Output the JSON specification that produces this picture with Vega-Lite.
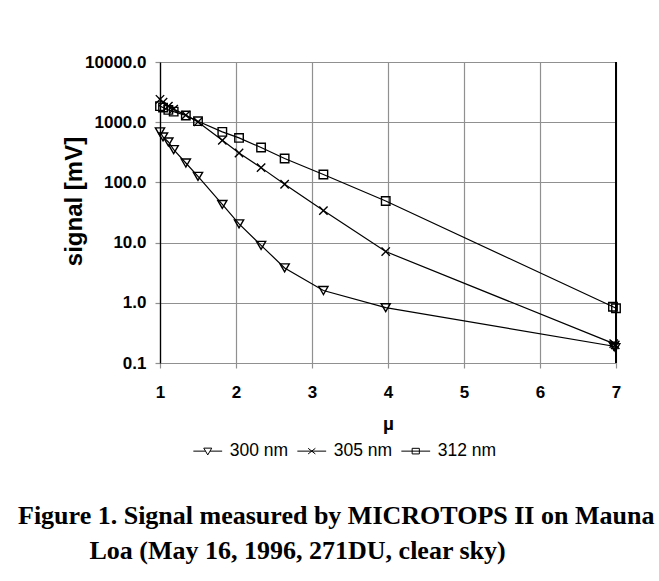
{
  "$schema": "https://vega.github.io/schema/vega-lite/v6.json",
  "width": 456,
  "height": 301,
  "autosize": {"type": "none"},
  "padding": {"left": 160, "top": 62, "right": 43, "bottom": 218},
  "background": "white",
  "title": {
    "text": ["Figure 1. Signal measured by MICROTOPS II on Mauna", "\u200b\u00a0\u00a0\u00a0\u00a0\u00a0\u00a0\u00a0\u00a0\u00a0\u00a0\u00a0Loa (May 16, 1996, 271DU, clear sky)"],
    "orient": "bottom",
    "anchor": "start",
    "frame": "group",
    "dx": -142,
    "offset": 43,
    "font": "Liberation Serif",
    "fontSize": 26,
    "fontWeight": "bold",
    "lineHeight": 35,
    "color": "black"
  },
  "data": {
    "values": [
      {"series": "300 nm", "mu": 1.00, "signal": 690},
      {"series": "300 nm", "mu": 1.04, "signal": 569},
      {"series": "300 nm", "mu": 1.11, "signal": 470},
      {"series": "300 nm", "mu": 1.18, "signal": 351},
      {"series": "300 nm", "mu": 1.34, "signal": 210},
      {"series": "300 nm", "mu": 1.50, "signal": 126},
      {"series": "300 nm", "mu": 1.82, "signal": 43},
      {"series": "300 nm", "mu": 2.04, "signal": 20.5},
      {"series": "300 nm", "mu": 2.33, "signal": 9.0},
      {"series": "300 nm", "mu": 2.64, "signal": 3.8},
      {"series": "300 nm", "mu": 3.15, "signal": 1.6},
      {"series": "300 nm", "mu": 3.97, "signal": 0.83},
      {"series": "300 nm", "mu": 6.97, "signal": 0.19},
      {"series": "300 nm", "mu": 6.99, "signal": 0.18},
      {"series": "305 nm", "mu": 1.00, "signal": 2400},
      {"series": "305 nm", "mu": 1.04, "signal": 2150},
      {"series": "305 nm", "mu": 1.11, "signal": 1850},
      {"series": "305 nm", "mu": 1.18, "signal": 1650},
      {"series": "305 nm", "mu": 1.34, "signal": 1310},
      {"series": "305 nm", "mu": 1.50, "signal": 1010},
      {"series": "305 nm", "mu": 1.82, "signal": 500},
      {"series": "305 nm", "mu": 2.04, "signal": 308},
      {"series": "305 nm", "mu": 2.33, "signal": 176},
      {"series": "305 nm", "mu": 2.64, "signal": 93},
      {"series": "305 nm", "mu": 3.15, "signal": 34},
      {"series": "305 nm", "mu": 3.97, "signal": 7.1},
      {"series": "305 nm", "mu": 6.97, "signal": 0.21},
      {"series": "305 nm", "mu": 6.99, "signal": 0.2},
      {"series": "312 nm", "mu": 1.00, "signal": 1850},
      {"series": "312 nm", "mu": 1.04, "signal": 1750},
      {"series": "312 nm", "mu": 1.11, "signal": 1600},
      {"series": "312 nm", "mu": 1.18, "signal": 1500},
      {"series": "312 nm", "mu": 1.34, "signal": 1290},
      {"series": "312 nm", "mu": 1.50, "signal": 1040},
      {"series": "312 nm", "mu": 1.82, "signal": 690},
      {"series": "312 nm", "mu": 2.04, "signal": 548},
      {"series": "312 nm", "mu": 2.33, "signal": 379},
      {"series": "312 nm", "mu": 2.64, "signal": 249},
      {"series": "312 nm", "mu": 3.15, "signal": 135},
      {"series": "312 nm", "mu": 3.97, "signal": 49},
      {"series": "312 nm", "mu": 6.96, "signal": 0.86},
      {"series": "312 nm", "mu": 7.0, "signal": 0.81}
    ]
  },
  "config": {
    "view": {"stroke": null},
    "font": "Liberation Sans",
    "axis": {
      "labelFont": "Liberation Sans",
      "labelFontWeight": "bold",
      "labelFontSize": 17,
      "labelColor": "black",
      "titleFont": "Liberation Sans",
      "titleFontWeight": "bold",
      "titleColor": "black",
      "gridColor": "#909090",
      "gridWidth": 1.2,
      "gridOpacity": 1,
      "tickColor": "#909090",
      "tickWidth": 1.2
    }
  },
  "layer": [
    {
      "mark": {"type": "rule", "color": "black", "strokeWidth": 1},
      "encoding": {
        "x": {"datum": 7, "type": "quantitative"}
      }
    },
    {
      "mark": {"type": "line", "color": "black", "strokeWidth": 1.2},
      "encoding": {
        "x": {
          "field": "mu", "type": "quantitative",
          "scale": {"domain": [1, 7], "nice": false, "zero": false},
          "axis": {
            "title": "µ",
            "titleFontSize": 19,
            "titleY": 51,
            "values": [1, 1.5, 2, 2.5, 3, 3.5, 4, 4.5, 5, 5.5, 6, 6.5, 7],
            "labelExpr": "datum.value % 1 === 0 ? datum.label : ''",
            "format": "d",
            "grid": true,
            "domainColor": "#909090",
            "domainWidth": 1.2,
            "tickSize": {"condition": {"test": "datum.value % 1 === 0", "value": 5}, "value": 2},
            "labelPadding": 16,
            "labelFlush": false
          }
        },
        "y": {
          "field": "signal", "type": "quantitative",
          "scale": {"type": "log", "domain": [0.1, 10000], "nice": false},
          "axis": {
            "title": "signal [mV]",
            "titleFontSize": 24,
            "titleX": -74,
            "titleY": 139,
            "values": [0.1, 1, 10, 100, 1000, 10000],
            "format": ".1f",
            "grid": true,
            "domainColor": "black",
            "domainWidth": 1.3,
            "tickSize": 5,
            "labelPadding": 9
          }
        },
        "detail": {"field": "series", "type": "nominal"}
      }
    },
    {
      "transform": [{"filter": "datum.series === '300 nm'"}],
      "mark": {"type": "point", "shape": "triangle-down", "filled": false, "stroke": "black", "strokeWidth": 1.4, "opacity": 1, "size": 85},
      "encoding": {
        "x": {"field": "mu", "type": "quantitative"},
        "y": {"field": "signal", "type": "quantitative"}
      }
    },
    {
      "transform": [{"filter": "datum.series === '305 nm'"}],
      "mark": {"type": "point", "shape": "M-1,-1L1,1M-1,1L1,-1", "filled": false, "stroke": "black", "strokeWidth": 1.4, "opacity": 1, "size": 70},
      "encoding": {
        "x": {"field": "mu", "type": "quantitative"},
        "y": {"field": "signal", "type": "quantitative"}
      }
    },
    {
      "transform": [{"filter": "datum.series === '312 nm'"}],
      "mark": {"type": "point", "shape": "square", "filled": false, "stroke": "black", "strokeWidth": 1.4, "opacity": 1, "size": 72},
      "encoding": {
        "x": {"field": "mu", "type": "quantitative"},
        "y": {"field": "signal", "type": "quantitative"}
      }
    },
    {
      "transform": [{"filter": "datum.mu > 100"}],
      "mark": {"type": "point", "filled": false, "stroke": "black", "strokeWidth": 1, "opacity": 1},
      "encoding": {
        "x": {"field": "mu", "type": "quantitative"},
        "y": {"field": "signal", "type": "quantitative"},
        "shape": {
          "field": "series", "type": "nominal",
          "scale": {
            "domain": ["300 nm", "305 nm", "312 nm"],
            "range": [
              "M-3.6,0L-0.56,0M0.56,0L3.6,0M-1,-0.75L1,-0.75L0,0.95Z",
              "M-3.6,0L3.6,0M-0.9,-0.7L0.9,0.7M-0.9,0.7L0.9,-0.7",
              "M-3.6,0L3.6,0M-0.9,-0.7L0.9,-0.7L0.9,0.7L-0.9,0.7Z"
            ]
          },
          "legend": {
            "orient": "none",
            "legendX": 39,
            "legendY": 380,
            "direction": "horizontal",
            "title": null,
            "labelFont": "Liberation Sans",
            "labelFontSize": 17.5,
            "labelColor": "black",
            "symbolSize": 64,
            "labelOffset": 13.2,
            "columnPadding": 6,
            "symbolStrokeWidth": 1,
            "symbolStrokeColor": "black",
            "symbolFillColor": "white"
          }
        }
      }
    }
  ]
}
